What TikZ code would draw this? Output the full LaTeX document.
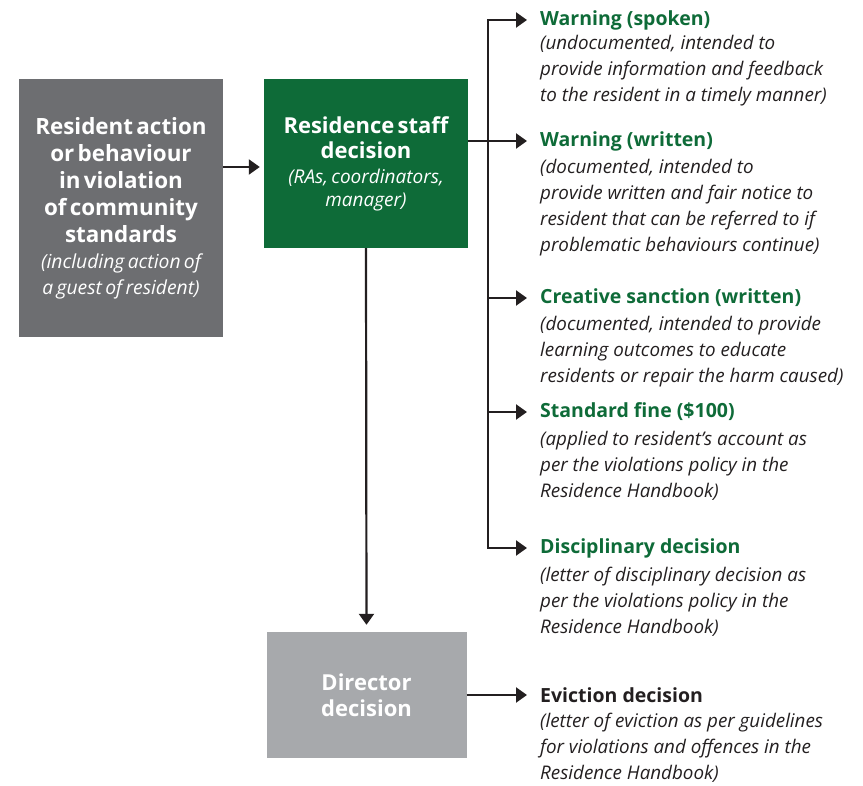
\documentclass[tikz,border=0pt]{standalone}
\usepackage{fontspec}
\setmainfont{Open Sans}
\usetikzlibrary{arrows.meta}
\definecolor{dgreen}{HTML}{0E6B38}
\definecolor{dgray}{HTML}{6D6E71}
\definecolor{lgray}{HTML}{A7A9AC}
\definecolor{ink}{HTML}{231F20}
\begin{document}
\begin{tikzpicture}[x=1pt,y=-1pt,
  box/.style={inner sep=0pt, text=white, align=center, text width=200pt},
  conn/.style={draw=ink, line width=2.2pt, line join=miter},
  arr/.style={conn, -{Triangle[length=11pt,width=15pt]}},
  head/.style={anchor=west, inner xsep=13pt, inner ysep=0pt, font=\bfseries\fontsize{19.5}{26}\selectfont, text=dgreen},
  desc/.style={anchor=north west, inner sep=0pt, align=left, text=ink, font=\itshape\fontsize{18.8}{26}\selectfont}
]
\useasboundingbox (0,0) rectangle (863,786);

\node[box, fill=dgray, minimum width=204pt, minimum height=258pt] (act) at (121,208)
  {\bfseries\fontsize{22.4}{27}\selectfont Resident action\\ or behaviour\\ in violation\\ of community\\ standards\\
   \mdseries\itshape\fontsize{19.3}{26}\selectfont (including action of\\ a guest of resident)\par};
\node[box, fill=dgreen, minimum width=204pt, minimum height=169pt] (staff) at (366,163.5)
  {\bfseries\fontsize{22}{25}\selectfont Residence staff\\ decision\\[2pt]
   \mdseries\itshape\fontsize{19}{23}\selectfont (RAs, coordinators,\\ manager)\par};
\node[box, fill=lgray, minimum width=197pt, minimum height=126pt] (dir) at (366.5,695)
  {\bfseries\fontsize{22}{26}\selectfont Director\\ decision\par};

% right-hand items
\node[head] (h1) at (527,20) {Warning (spoken)};
\node[desc] (d1) at (540,35) {(undocumented, intended to\\ provide information and feedback\\ to the resident in a timely manner)};
\node[head] (h2) at (527,141) {Warning (written)};
\node[desc] (d2) at (540,159) {(documented, intended to\\ provide written and fair notice to\\ resident that can be referred to if\\ problematic behaviours continue)};
\node[head] (h3) at (527,298) {Creative sanction (written)};
\node[desc] (d3) at (540,316) {(documented, intended to provide\\ learning outcomes to educate\\ residents or repair the harm caused)};
\node[head] (h4) at (527,412) {Standard fine (\$100)};
\node[desc] (d4) at (540,431) {(applied to resident’s account as\\ per the violations policy in the\\ Residence Handbook)};
\node[head] (h5) at (527,548) {Disciplinary decision};
\node[desc] (d5) at (540,567) {(letter of disciplinary decision as\\ per the violations policy in the\\ Residence Handbook)};
\node[head, text=ink] (h6) at (527,695) {Eviction decision};
\node[desc] (d6) at (540,713) {(letter of eviction as per guidelines\\ for violations and offences in the\\ Residence Handbook)};

\coordinate (ttop) at (488,20);
\coordinate (tbot) at (488,548);
\coordinate (yrow) at (0,167);

% connectors
\draw[arr, shorten >=4pt] (act.east |- yrow) -- (staff.west |- yrow);
\draw[arr, shorten >=7pt] (staff.south) -- (dir.north);
\draw[conn, {Triangle[length=11pt,width=15pt]}-{Triangle[length=11pt,width=15pt]}] (h1.west) -- (ttop) -- (tbot) -- (h5.west);
\draw[arr] (staff.east |- h2.west) -- (h2.west);
\draw[arr] (ttop |- h3.west) -- (h3.west);
\draw[arr] (ttop |- h4.west) -- (h4.west);
\draw[arr] (dir.east |- h6.west) -- (h6.west);
\end{tikzpicture}
\end{document}
